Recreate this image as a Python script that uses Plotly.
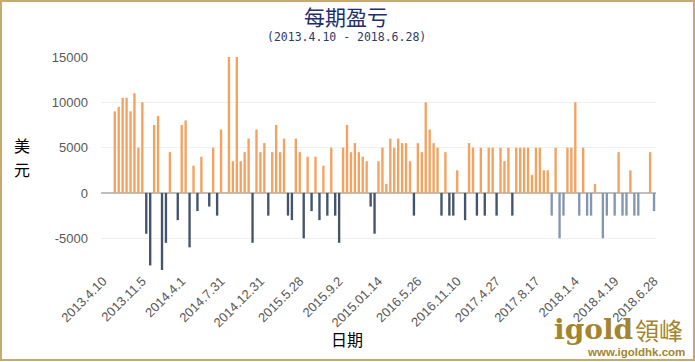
import plotly.graph_objects as go

# ---- data ----
tick_labels = ["2013.4.10", "2013.11.5", "2014.4.1", "2014.7.31", "2014.12.31",
               "2015.5.28", "2015.9.2", "2015.01.14", "2016.5.26", "2016.11.10",
               "2017.4.27", "2017.8.17", "2018.1.4", "2018.4.19", "2018.6.28"]
label_step = 10          # one label every 10 periods
leading_empty = [None, None, None]   # periods without a result at the start

pnl = [9000, 9500, 10500, 10500, 9000, 11000, 5000, 10000, -4500, -8000,
       7500, 8500, -8500, -5500, 4500, 0, -3000, 7500, 8000, -6000,
       3000, -2000, 4000, 0, -1500, 5000, -2500, 7000, 0, 15000,
       3500, 15000, 3500, 4500, 6000, -5500, 7000, 4500, 5500, -2500,
       4500, 7500, 4500, 6000, -2500, -3000, 6000, 4500, -5000, 4000,
       -2000, 4000, -3000, 3000, -2500, 5000, -2500, -5500, 5000, 7500,
       4500, 5500, 4500, 4000, 3500, -1500, -4500, 3500, 5000, 1000,
       6000, 5000, 6000, 5500, 5500, 3500, -2500, 5500, 4500, 10000,
       7000, 5500, 5000, -2500, 4500, -2500, -2500, 2500, 0, -3000,
       5500, 5000, -2500, 5000, -2500, 5000, 5000, -2500, 5000, 3500,
       5000, -2500, 5000, 5000, 5000, 5000, 2000, 5000, 5000, 2500,
       2500, -2500, 5000, -5000, -2500, 5000, 5000, 10000, -2500, 5000,
       -2500, -2500, 1000, 0, -5000, -2500, 0, -2500, 4500, -2500,
       -2500, 2500, -2500, -2500, 0, 0, 4500, -2000]
light_loss_from = 111    # later losses drawn in a lighter blue-grey

y_ticks = [-5000, 0, 5000, 10000, 15000]

# ---- build ----
values = leading_empty + pnl
x = list(range(len(values)))
colors = []
for i, v in enumerate(pnl):
    if v is not None and v < 0:
        colors.append("#8497B0" if i >= light_loss_from else "#44546A")
    else:
        colors.append("#F6A15E")
colors = ["#F6A15E"] * len(leading_empty) + colors

W, H = 695, 362
L, R, T, B = 101, 39, 57, 92
pw, ph = W - L - R, H - T - B


def px(xp):
    return (xp - L) / pw


def py(yp):
    return (H - B - yp) / ph


fig = go.Figure(go.Bar(x=x, y=values, marker_color=colors, width=0.6,
                       marker_line_width=0, hoverinfo="x+y"))

tickvals = [i * label_step for i in range(len(tick_labels))]

fig.update_layout(
    width=W, height=H,
    margin=dict(l=L, r=R, t=T, b=B, pad=0),
    paper_bgcolor="white", plot_bgcolor="white",
    showlegend=False,
    xaxis=dict(range=[-0.5, len(values) - 0.5], tickvals=tickvals, ticktext=tick_labels,
               tickangle=-45, showgrid=False, zeroline=False, showline=False,
               ticks="", automargin=False,
               tickfont=dict(family="Liberation Sans", size=13, color="#595959")),
    yaxis=dict(range=[-8500, 15000], tickvals=y_ticks, ticktext=[str(v) for v in y_ticks],
               showgrid=True, gridcolor="#EFEFEF", gridwidth=1,
               zeroline=True, zerolinecolor="#BFBFBF", zerolinewidth=2,
               showline=False, ticks="", ticklabelstandoff=12, automargin=False,
               tickfont=dict(family="Liberation Sans", size=13, color="#595959")),
    font=dict(family="Liberation Sans"),
)

ann = [
    dict(text="每期盈亏", x=px(346), y=py(16), font=dict(family="Noto Sans CJK SC", size=21, color="#1F2F6E")),
    dict(text="(2013.4.10 - 2018.6.28)", x=px(346), y=py(37.5),
         font=dict(family="DejaVu Sans Mono", size=11.5, color="#2E3A6E")),
    dict(text="美", x=px(22), y=py(145), font=dict(family="Noto Sans CJK SC", size=16, color="#000000")),
    dict(text="元", x=px(22), y=py(169), font=dict(family="Noto Sans CJK SC", size=16, color="#000000")),
    dict(text="日期", x=px(347), y=py(339), font=dict(family="Noto Sans CJK SC", size=16, color="#000000")),
    dict(text="<b>igold</b>", x=px(553), y=py(329), xanchor="left",
         font=dict(family="DejaVu Serif", size=28, color="#A3852F")),
    dict(text="領峰", x=px(634), y=py(329), xanchor="left",
         font=dict(family="Noto Sans CJK TC", size=24, color="#A3852F")),
    dict(text="<b>www.igoldhk.com</b>", x=px(636), y=py(352),
         font=dict(family="Liberation Sans", size=11.5, color="#A3852F")),
]
for a in ann:
    a.setdefault("xanchor", "center")
    a.update(xref="paper", yref="paper", yanchor="middle", showarrow=False, borderpad=0)
fig.update_layout(annotations=ann)

fig.add_shape(type="rect", xref="paper", yref="paper",
              x0=px(1), x1=px(694), y0=py(360), y1=py(1),
              line=dict(color="#C8AA6E", width=2), layer="below")

fig.write_html("out.html", config={"displayModeBar": False},
               post_script="document.body.style.margin='0';document.body.style.padding='0';")
